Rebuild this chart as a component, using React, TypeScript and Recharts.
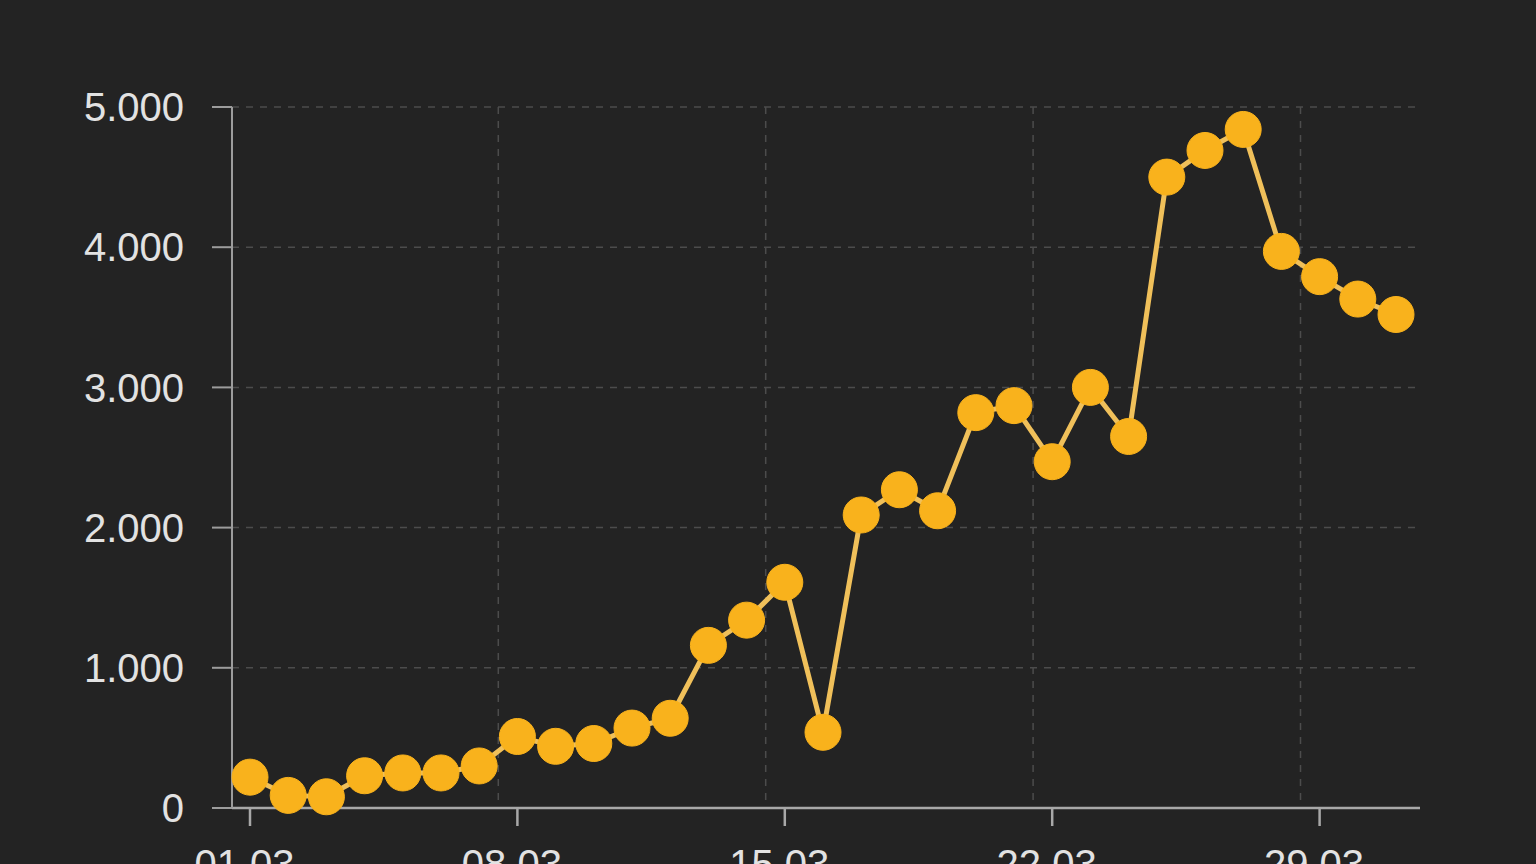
import { LineChart, Line, XAxis, YAxis, CartesianGrid } from 'recharts'

// daily values, March (labels shown every 7th day)
const days = [
  '01.03.', '02.03.', '03.03.', '04.03.', '05.03.', '06.03.', '07.03.',
  '08.03.', '09.03.', '10.03.', '11.03.', '12.03.', '13.03.', '14.03.',
  '15.03.', '16.03.', '17.03.', '18.03.', '19.03.', '20.03.', '21.03.',
  '22.03.', '23.03.', '24.03.', '25.03.', '26.03.', '27.03.', '28.03.',
  '29.03.', '30.03.', '31.03.',
]
const values = [
  220, 90, 80, 230, 250, 250, 300, 510, 440, 460, 570, 640, 1160, 1340, 1610,
  540, 2090, 2270, 2120, 2820, 2870, 2470, 3000, 2650, 4500, 4690, 4840, 3970,
  3790, 3630, 3520,
]
const yTicks = [0, 1000, 2000, 3000, 4000, 5000]

const data = days.map((day, i) => ({ day, value: values[i] }))

const PAD_LEFT = 18
const PAD_RIGHT = 24
const fmt = (v: number) => String(v).replace(/\B(?=(\d{3})+(?!\d))/g, '.')

export default function App() {
  // vertical grid sits half a step before every 7th label
  const gridX = ({ offset }: any) => {
    const start = offset.left + PAD_LEFT
    const end = offset.left + offset.width - PAD_RIGHT
    const step = (end - start) / (days.length - 1)
    return [7, 14, 21, 28].map((i) => start + step * (i - 0.5))
  }

  return (
    <div
      style={{
        position: 'fixed',
        left: 0,
        top: 0,
        width: 1536,
        height: 864,
        overflow: 'hidden',
        background: '#232323',
      }}
    >
      <LineChart
        width={1536}
        height={900}
        data={data}
        margin={{ top: 107, right: 116, bottom: 32, left: 0 }}
      >
        <CartesianGrid
          stroke="#4c4c4c"
          strokeWidth={1.5}
          strokeDasharray="7 7"
          verticalCoordinatesGenerator={gridX}
        />
        <XAxis
          dataKey="day"
          interval={6}
          height={60}
          padding={{ left: PAD_LEFT, right: PAD_RIGHT }}
          stroke="#a8a8a8"
          strokeWidth={2.5}
          tickSize={18}
          tickMargin={24}
          tick={{ fill: '#e2e2e2', fontSize: 40, fontFamily: 'Liberation Sans, Arial, sans-serif' }}
        />
        <YAxis
          width={232}
          domain={[0, 5000]}
          ticks={yTicks}
          tickFormatter={fmt}
          stroke="#9c9c9c"
          strokeWidth={2}
          tickSize={20}
          tickMargin={28}
          tick={{ fill: '#e2e2e2', fontSize: 40, fontFamily: 'Liberation Sans, Arial, sans-serif' }}
        />
        <Line
          type="linear"
          dataKey="value"
          stroke="#f0c05a"
          strokeWidth={5}
          dot={{ r: 18, fill: '#f9b21c', stroke: '#f9b21c', strokeWidth: 1 }}
          activeDot={false}
          isAnimationActive={false}
        />
      </LineChart>
    </div>
  )
}
